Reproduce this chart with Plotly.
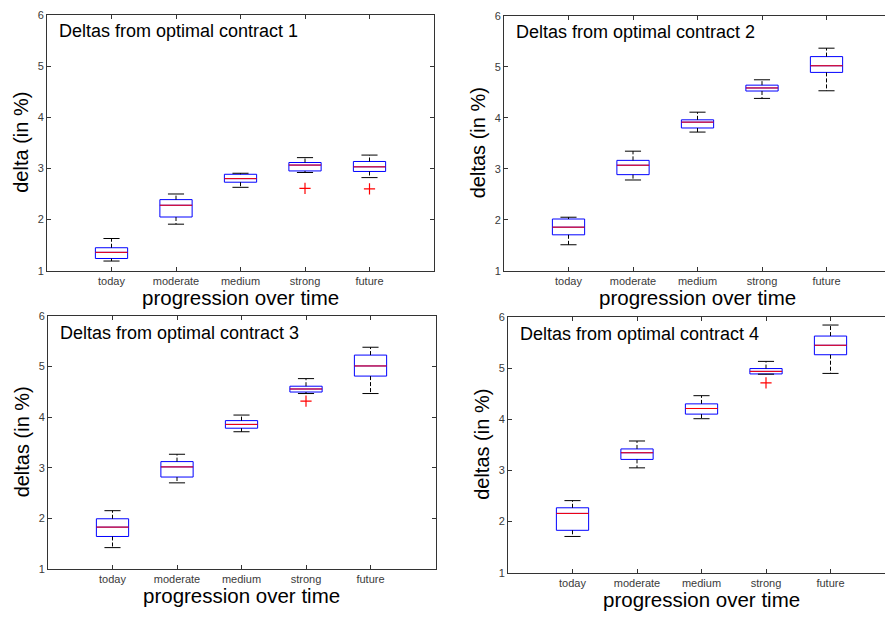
import plotly.graph_objects as go

# Categories along the horizontal axis
categories = ["today", "moderate", "medium", "strong", "future"]
positions = [1, 2, 3, 4, 5]

# Box statistics per contract: lower whisker, Q1, median, Q3, upper whisker
c1_low = [1.19, 1.91, 2.63, 2.92, 2.82]
c1_q1 = [1.24, 2.05, 2.73, 2.95, 2.94]
c1_med = [1.36, 2.28, 2.80, 3.065, 3.03]
c1_q3 = [1.45, 2.39, 2.885, 3.115, 3.135]
c1_high = [1.63, 2.50, 2.905, 3.21, 3.26]
c1_out = [[], [], [], [2.61], [2.60]]

c2_low = [1.51, 2.78, 3.72, 4.38, 4.53]
c2_q1 = [1.705, 2.885, 3.80, 4.525, 4.89]
c2_med = [1.855, 3.07, 3.915, 4.585, 5.02]
c2_q3 = [2.015, 3.165, 3.96, 4.64, 5.20]
c2_high = [2.05, 3.345, 4.11, 4.745, 5.365]
c2_out = [[], [], [], [], []]

c3_low = [1.42, 2.70, 3.71, 4.465, 4.465]
c3_q1 = [1.64, 2.815, 3.78, 4.495, 4.81]
c3_med = [1.825, 3.015, 3.855, 4.555, 5.01]
c3_q3 = [1.99, 3.12, 3.93, 4.61, 5.225]
c3_high = [2.15, 3.265, 4.04, 4.76, 5.38]
c3_out = [[], [], [], [4.315], []]

c4_low = [1.71, 3.05, 4.01, 4.88, 4.895]
c4_q1 = [1.83, 3.215, 4.10, 4.885, 5.26]
c4_med = [2.16, 3.345, 4.21, 4.935, 5.445]
c4_q3 = [2.27, 3.42, 4.30, 4.99, 5.625]
c4_high = [2.41, 3.575, 4.46, 5.13, 5.84]
c4_out = [[], [], [], [4.71], []]

panel_titles = ["Deltas from optimal contract 1", "Deltas from optimal contract 2",
                "Deltas from optimal contract 3", "Deltas from optimal contract 4"]
y_titles = ["delta (in %)", "deltas (in %)", "deltas (in %)", "deltas (in %)"]
x_title = "progression over time"

contracts = [
    (c1_low, c1_q1, c1_med, c1_q3, c1_high, c1_out),
    (c2_low, c2_q1, c2_med, c2_q3, c2_high, c2_out),
    (c3_low, c3_q1, c3_med, c3_q3, c3_high, c3_out),
    (c4_low, c4_q1, c4_med, c4_q3, c4_high, c4_out),
]

W, H = 885, 619
BOX_HALF = 0.25
CAP_HALF = 0.125
FONT = "Liberation Sans, Arial"

# Pixel layout of each axes box: left, right, top, bottom
frames = [
    (47, 434, 9, 270),
    (504, 885, 10, 270),
    (48, 436, 316, 574),
    (508, 885, 317, 578),
]
UNIT_PX = 64.5

fig = go.Figure()

for k, (low, q1, med, q3, high, outs) in enumerate(contracts):
    suffix = "" if k == 0 else str(k + 1)
    xa, ya = "x" + suffix, "y" + suffix

    # dashed whiskers
    wx, wy = [], []
    for p, a, b, c, d in zip(positions, low, q1, q3, high):
        wx += [p, p, None, p, p, None]
        wy += [c, d, None, b, a, None]
    fig.add_trace(go.Scatter(x=wx, y=wy, mode="lines", xaxis=xa, yaxis=ya,
                             line=dict(color="black", width=1, dash="4px,2px"),
                             hoverinfo="skip", showlegend=False))

    # whisker caps
    cx, cy = [], []
    for p, a, d in zip(positions, low, high):
        cx += [p - CAP_HALF, p + CAP_HALF, None, p - CAP_HALF, p + CAP_HALF, None]
        cy += [d, d, None, a, a, None]
    fig.add_trace(go.Scatter(x=cx, y=cy, mode="lines", xaxis=xa, yaxis=ya,
                             line=dict(color="black", width=1),
                             hoverinfo="skip", showlegend=False))

    # boxes from quartiles
    fig.add_trace(go.Box(x=positions, q1=q1, median=med, q3=q3,
                         lowerfence=q1, upperfence=q3, width=2 * BOX_HALF,
                         xaxis=xa, yaxis=ya, boxpoints=False,
                         line=dict(color="#0000ff", width=1),
                         fillcolor="rgba(255,255,255,1)", whiskerwidth=0,
                         showlegend=False))

    # red median lines
    mx, my = [], []
    for p, m in zip(positions, med):
        mx += [p - BOX_HALF, p + BOX_HALF, None]
        my += [m, m, None]
    fig.add_trace(go.Scatter(x=mx, y=my, mode="lines", xaxis=xa, yaxis=ya,
                             line=dict(color="#ff0000", width=1),
                             hoverinfo="skip", showlegend=False))

    # outliers
    ox, oy = [], []
    for p, vals in zip(positions, outs):
        for v in vals:
            ox.append(p)
            oy.append(v)
    if ox:
        fig.add_trace(go.Scatter(x=ox, y=oy, mode="markers", xaxis=xa, yaxis=ya,
                                 marker=dict(symbol="cross-thin", size=8,
                                             line=dict(color="#ff0000", width=1.2)),
                                 showlegend=False))

    left, right, top, bottom = frames[k]
    full_box = right < W - 5
    axis_common = dict(showgrid=False, zeroline=False, showline=True,
                       linecolor="#333333", linewidth=1, ticks="inside",
                       ticklen=4, tickcolor="#333333",
                       tickfont=dict(family=FONT, size=11, color="#3a3a3a"))
    fig.layout["xaxis" + suffix] = dict(
        domain=[left / W, right / W], anchor=ya,
        range=[0, (right - left) / UNIT_PX],
        tickvals=positions, ticktext=categories, mirror="ticks", **axis_common)
    fig.layout["yaxis" + suffix] = dict(
        domain=[1 - bottom / H, 1 - top / H], anchor=xa,
        range=[1, 6], dtick=1, mirror="ticks" if full_box else False,
        **axis_common)

    # panel heading inside the axes
    fig.add_annotation(text=panel_titles[k], xref="paper", yref="paper",
                       x=(left + 10) / W, y=1 - (top + 17) / H,
                       xanchor="left", yanchor="middle", showarrow=False,
                       font=dict(family=FONT, size=18, color="black"))
    # axis titles
    fig.add_annotation(text=y_titles[k], xref="paper", yref="paper",
                       x=(left - 26) / W, y=1 - ((top + bottom) / 2) / H,
                       xanchor="center", yanchor="middle", textangle=-90,
                       showarrow=False,
                       font=dict(family=FONT, size=20, color="black"))
    fig.add_annotation(text=x_title, xref="paper", yref="paper",
                       x=(left + 3 * UNIT_PX) / W, y=1 - (bottom + 27) / H,
                       xanchor="center", yanchor="middle", showarrow=False,
                       font=dict(family=FONT, size=20.5, color="black"))

fig.update_layout(width=W, height=H, margin=dict(l=0, r=0, t=0, b=0),
                  paper_bgcolor="white", plot_bgcolor="white")

fig.write_html("out.html")
